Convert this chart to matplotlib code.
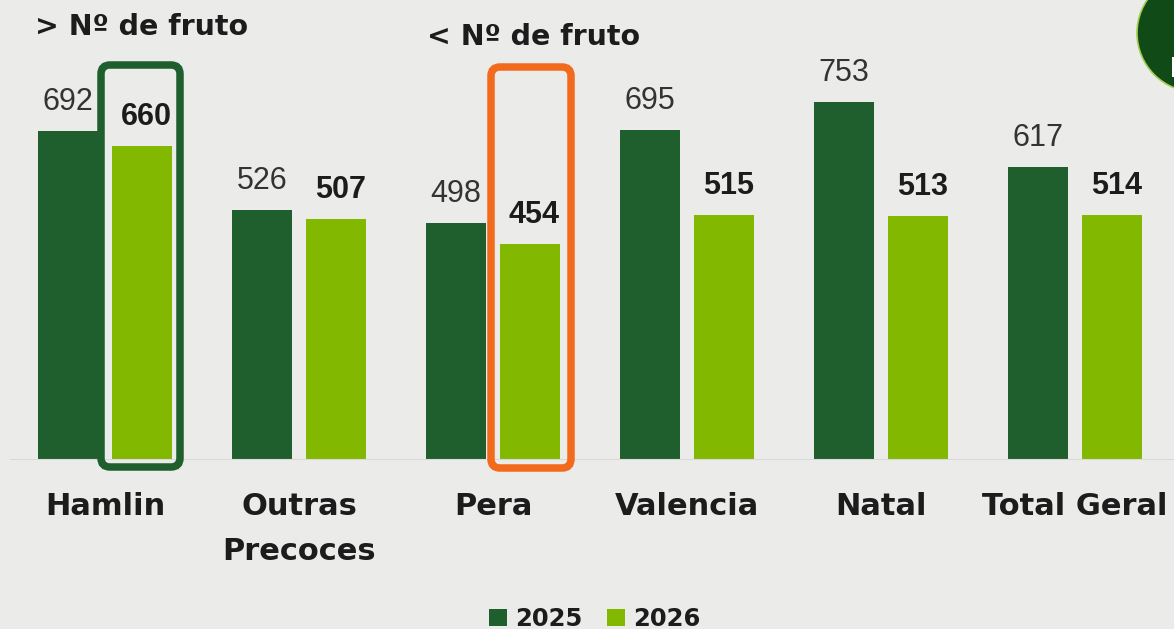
"""Nº de fruto por variedade, 2025 vs 2026."""
import numpy as np
import matplotlib; matplotlib.use("Agg")
import matplotlib.pyplot as plt
from matplotlib.patches import FancyBboxPatch, Circle, Rectangle
from matplotlib.transforms import Affine2D

W, H = 1174, 629
BG = "#ebebea"; DARK = "#1f5f2e"; LIGHT = "#82b800"; TXT = "#1c1c1c"

categories = ["Hamlin", "Outras\nPrecoces", "Pera", "Valencia", "Natal", "Total Geral"]
v2025 = [692, 526, 498, 695, 753, 617]
v2026 = [660, 507, 454, 515, 513, 514]

plt.rcParams["font.family"] = ["DejaVu Sans"]
fig = plt.figure(figsize=(W / 100, H / 100), dpi=100, facecolor=BG)
# axes bottom sits on the baseline (y=459 px), 0.474 px per unit
ax = fig.add_axes([0, (H - 459) / H, 1, 459 / H], facecolor="none")
ax.set_xlim(-105 / 194, (W - 105) / 194)
ax.set_ylim(0, 459 / 0.474)

x = np.arange(len(categories))
bw, off = 60 / 194, 37 / 194
b1 = ax.bar(x - off, v2025, bw, color=DARK, label="2025")
b2 = ax.bar(x + off, v2026, bw, color=LIGHT, label="2026")
lab1 = ax.bar_label(b1, padding=10, fontsize=22, color="#333333", family="Liberation Sans")
lab2 = ax.bar_label(b2, padding=10, fontsize=22, color=TXT, family="Liberation Sans", fontweight="bold")
# bold labels sit to the right of their bars in the original
for t in lab2:
    t.xyann = (3, 10)

for s in ["top", "left", "right"]:
    ax.spines[s].set_visible(False)
ax.spines["bottom"].set_color("#d9d9d6")
ax.spines["bottom"].set_bounds(-95 / 194, ax.get_xlim()[1])
ax.set_yticks([])
ax.set_xticks(x, categories, fontsize=22, fontweight="bold", color=TXT, linespacing=1.67)
ax.tick_params(axis="x", length=0, pad=24)

# overlays placed in image pixels (origin top-left)
px = Affine2D().scale(1, -1).translate(0, H)
for x0, y0, x1, y1, c in [(101, 65, 180, 467, DARK), (491, 67, 571, 468, "#f26a1b")]:
    fig.add_artist(FancyBboxPatch((x0, y0), x1 - x0, y1 - y0, boxstyle="round,pad=0,rounding_size=9",
                                  fc="none", ec=c, lw=5.4, transform=px))
fig.add_artist(Circle((1196, 33), 59, fc="#0f4a17", ec="#a5cc55", lw=1.2, transform=px))
fig.add_artist(Rectangle((1172, 57), 2, 20, fc="white", ec="none", transform=px))  # sliver of the cropped badge glyph

fig.text(35 / W, 1 - 27 / H, "> Nº de fruto", fontsize=20.5, fontweight="bold", color=TXT, va="center")
fig.text(427 / W, 1 - 37 / H, "< Nº de fruto", fontsize=20.5, fontweight="bold", color=TXT, va="center")

fig.legend(handles=[b1, b2], loc="center", bbox_to_anchor=(595 / W, 1 - 619 / H), ncol=2, frameon=False,
           prop={"size": 17.5, "weight": "bold"}, handlelength=0.74, handleheight=0.74,
           handletextpad=0.33, columnspacing=1.0, labelcolor=TXT, borderpad=0, borderaxespad=0)

fig.savefig("out.png", dpi=100, facecolor=BG)
